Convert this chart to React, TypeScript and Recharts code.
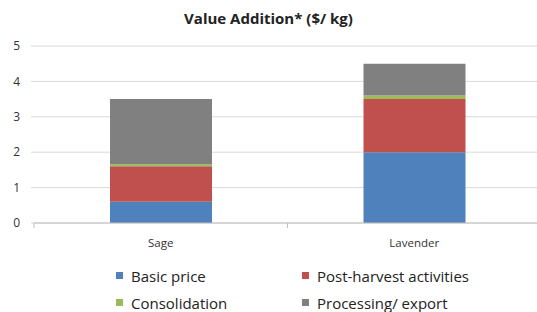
import { BarChart, Bar, XAxis, YAxis, CartesianGrid } from 'recharts';

const categories = ['Sage', 'Lavender'];
const basicPrice = [0.6, 2.0];
const postHarvest = [1.0, 1.5];
const consolidation = [0.06, 0.1];
const processing = [1.84, 0.9];
const yTicks = [0, 1, 2, 3, 4, 5];

const series = [
    { key: 'basic', name: 'Basic price', color: '#4F81BD', values: basicPrice },
    { key: 'post', name: 'Post-harvest activities', color: '#C0504D', values: postHarvest },
    { key: 'cons', name: 'Consolidation', color: '#9BBB59', values: consolidation },
    { key: 'proc', name: 'Processing/ export', color: '#808080', values: processing },
];

const data = categories.map((name, i) => {
    const row: Record<string, string | number> = { name };
    series.forEach((s) => {
        row[s.key] = s.values[i];
    });
    return row;
});

const font = "'Open Sans', 'Liberation Sans', sans-serif";

function CategoryTick(props: any) {
    const { x, y, payload } = props;
    const half = payload?.offset ?? 0;
    return (
        <g>
            <line x1={x + half} x2={x + half} y1={y - 8} y2={y - 3} stroke="#bfbfbf" />
            {payload.index === 0 && <line x1={x - half} x2={x - half} y1={y - 8} y2={y - 3} stroke="#bfbfbf" />}
            <text x={x} y={y + 16} textAnchor="middle" fontSize={11.5} fill="#333" fontFamily={font}>
                {payload.value}
            </text>
        </g>
    );
}

export default function App() {
    return (
        <div style={{ position: 'fixed', left: 0, top: 0, width: 537, height: 312, overflow: 'hidden', background: '#fff', fontFamily: font }}>
            <div style={{ position: 'absolute', top: 8, left: 0, width: 537, textAlign: 'center', fontWeight: 700, fontSize: 15, color: '#222' }}>
                Value Addition* ($/ kg)
            </div>
            <BarChart width={545} height={312} data={data} margin={{ top: 46, right: 4, bottom: 59, left: 0 }}>
                <CartesianGrid vertical={false} stroke="#d9d9d9" />
                <XAxis dataKey="name" tick={<CategoryTick />} tickLine={false} axisLine={{ stroke: '#bfbfbf' }} height={30} interval={0} />
                <YAxis
                    domain={[0, 5]}
                    ticks={yTicks}
                    width={34}
                    axisLine={false}
                    tickLine={{ stroke: '#d9d9d9' }}
                    tickSize={3}
                    tickMargin={11}
                    tick={{ fontSize: 12, fill: '#333', fontFamily: font }}
                />
                {series.map((s) => (
                    <Bar key={s.key} dataKey={s.key} name={s.name} stackId="a" fill={s.color} barSize={102} isAnimationActive={false} />
                ))}
            </BarChart>
            <div style={{ position: 'absolute', top: 266, left: 116, display: 'grid', gridTemplateColumns: '186px 220px', rowGap: 8, fontSize: 15, color: '#222' }}>
                {series.map((s) => (
                    <div key={s.key} style={{ display: 'flex', alignItems: 'center', height: 19 }}>
                        <span style={{ width: 7, height: 7, background: s.color, marginRight: 8, display: 'inline-block' }} />
                        {s.name}
                    </div>
                ))}
            </div>
        </div>
    );
}
